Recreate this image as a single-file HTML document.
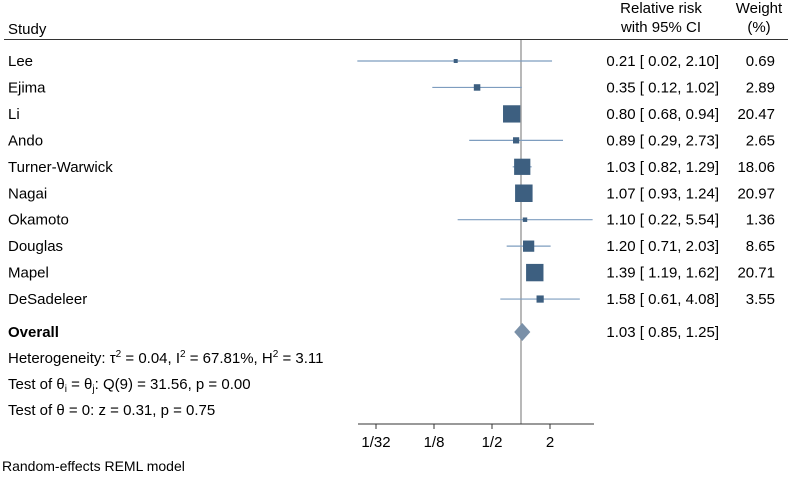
<!DOCTYPE html>
<html><head><meta charset="utf-8"><style>
body{margin:0;background:#fff}
svg{font-family:"Liberation Sans",Arial,sans-serif;font-size:15px;fill:#000}
</style></head><body>
<svg width="788" height="478" viewBox="0 0 788 478" xmlns="http://www.w3.org/2000/svg">
<text x="8" y="34">Study</text>
<text x="661" y="13" text-anchor="middle">Relative risk</text>
<text x="661" y="32" text-anchor="middle">with 95% CI</text>
<text x="759" y="13" text-anchor="middle">Weight</text>
<text x="759" y="32" text-anchor="middle">(%)</text>
<line x1="4" y1="39.5" x2="788" y2="39.5" stroke="#333" stroke-width="1"/>
<g id="marks"></g>
<g id="texts"></g>
<text x="8" y="363">Heterogeneity: τ<tspan dy="-6" font-size="10">2</tspan><tspan dy="6"> = 0.04, I</tspan><tspan dy="-6" font-size="10">2</tspan><tspan dy="6"> = 67.81%, H</tspan><tspan dy="-6" font-size="10">2</tspan><tspan dy="6"> = 3.11</tspan></text>
<text x="8" y="389">Test of θ<tspan dy="3" font-size="10">i</tspan><tspan dy="-3"> = θ</tspan><tspan dy="3" font-size="10">j</tspan><tspan dy="-3">: Q(9) = 31.56, p = 0.00</tspan></text>
<text x="8" y="415">Test of θ = 0: z = 0.31, p = 0.75</text>
<text x="2" y="471" font-size="14">Random-effects REML model</text>
</svg>
<script>
const studies=["Lee","Ejima","Li","Ando","Turner-Warwick","Nagai","Okamoto","Douglas","Mapel","DeSadeleer"];
const rr=[0.21,0.35,0.80,0.89,1.03,1.07,1.10,1.20,1.39,1.58];
const lo=[0.02,0.12,0.68,0.29,0.82,0.93,0.22,0.71,1.19,0.61];
const hi=[2.10,1.02,0.94,2.73,1.29,1.24,5.54,2.03,1.62,4.08];
const wt=[0.69,2.89,20.47,2.65,18.06,20.97,1.36,8.65,20.71,3.55];
const overall=[1.03,0.85,1.25];
const ticks=[1/32,1/8,1/2,2];
const tickLabels=["1/32","1/8","1/2","2"];
const NS="http://www.w3.org/2000/svg";
const xs=v=>521+29*Math.log2(v);
const ys=i=>61+26.45*i;
const marks=document.getElementById('marks'),texts=document.getElementById('texts');
function mk(p,tag,at){const e=document.createElementNS(NS,tag);for(const k in at)e.setAttribute(k,at[k]);p.appendChild(e);return e;}
const f=v=>v.toFixed(2);
let ref=mk(marks,'line',{x1:xs(1),x2:xs(1),y1:40,y2:424,stroke:'#8a8a8a','stroke-width':1.2});


studies.forEach((s,i)=>{
  const y=ys(i);
  let l=mk(marks,'line',{x1:xs(lo[i]),x2:xs(hi[i]),y1:y,y2:y,stroke:'#7e9dbf','stroke-width':1.2});
  
  
  const side=Math.max(4,17.5*Math.sqrt(wt[i]/20.97));
  let r=mk(marks,'rect',{x:xs(rr[i])-side/2,y:y-side/2,width:side,height:side,fill:'#3d5f80'});
  
  
  let t=mk(texts,'text',{x:8,y:y+5});t.textContent=s;
  
  
  let c=mk(texts,'text',{x:719,y:y+5,'text-anchor':'end','xml:space':'preserve'});
  c.textContent=f(rr[i])+' [ '+f(lo[i])+',  '+f(hi[i])+']';
  
  
  let w=mk(texts,'text',{x:775,y:y+5,'text-anchor':'end'});w.textContent=f(wt[i]);
  
  
});
const oy=332;
let d=mk(marks,'polygon',{points:`${xs(overall[1])},${oy} ${xs(overall[0])},${oy-9} ${xs(overall[2])},${oy} ${xs(overall[0])},${oy+9}`,fill:'#7a90a8'});


let ol=mk(texts,'text',{x:8,y:oy+5,'font-weight':'bold'});ol.textContent='Overall';


let oc=mk(texts,'text',{x:719,y:oy+5,'text-anchor':'end','xml:space':'preserve'});
oc.textContent=f(overall[0])+' [ '+f(overall[1])+',  '+f(overall[2])+']';


let ax=mk(marks,'line',{x1:358,x2:594,y1:424,y2:424,stroke:'#333','stroke-width':1});


ticks.forEach((v,i)=>{
  let tk=mk(marks,'line',{x1:xs(v),x2:xs(v),y1:424,y2:429,stroke:'#333'});
  
  
  let tl=mk(texts,'text',{x:xs(v),y:447,'text-anchor':'middle'});tl.textContent=tickLabels[i];
  
  
});
</script>
</body></html>
